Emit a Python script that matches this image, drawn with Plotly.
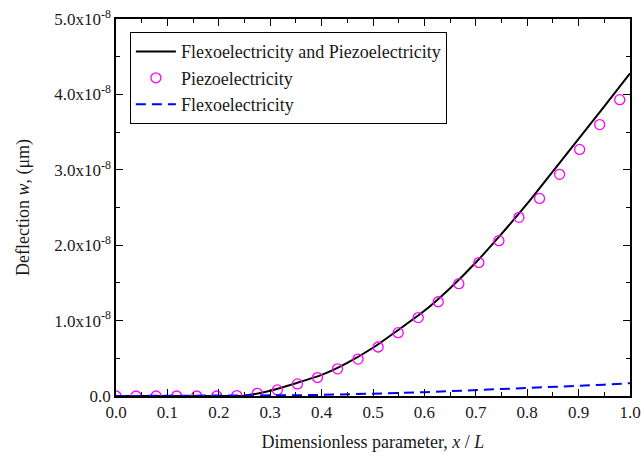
import numpy as np
import plotly.graph_objects as go

# Combined (flexo + piezo) curve (units of 1e-8 um)
x_both = [0.0, 0.05, 0.1, 0.15, 0.2, 0.25, 0.3, 0.35, 0.4, 0.45, 0.5, 0.55, 0.6, 0.65, 0.7, 0.75, 0.8, 0.85, 0.9, 0.95, 1.0]
y_both = [0.0, 0.0, 0.0, 0.0, 0.0, 0.005, 0.07, 0.17, 0.28, 0.44, 0.64, 0.88, 1.13, 1.43, 1.77, 2.15, 2.55, 2.98, 3.41, 3.84, 4.28]

# Piezoelectricity only (circles)
x_piezo = [0.0, 0.039, 0.078, 0.118, 0.157, 0.196, 0.235, 0.275, 0.314, 0.353, 0.392, 0.431, 0.471,
           0.510, 0.549, 0.588, 0.627, 0.667, 0.706, 0.745, 0.784, 0.824, 0.863, 0.902, 0.941, 0.980]
y_piezo = [0.0, 0.0, 0.0, 0.0, 0.0, 0.0, 0.005, 0.035, 0.08, 0.16, 0.245, 0.36, 0.49,
           0.65, 0.84, 1.04, 1.25, 1.49, 1.77, 2.06, 2.37, 2.62, 2.94, 3.27, 3.60, 3.93]

# Flexoelectricity only (dashed)
x_flexo = [0.0, 0.05, 0.1, 0.15, 0.2, 0.25, 0.3, 0.35, 0.4, 0.45, 0.5, 0.55, 0.6, 0.65, 0.7, 0.75, 0.8, 0.85, 0.9, 0.95, 1.0]
y_flexo = [0.0, 0.0, 0.0, 0.0, 0.0, 0.0, 0.005, 0.01, 0.015, 0.02, 0.03, 0.04, 0.05, 0.065, 0.08, 0.09, 0.105, 0.12, 0.13, 0.15, 0.17]

scale = 1e-8
y_tickvals = [0, 1, 2, 3, 4, 5]
y_ticktext = ["0.0", "1.0x10<sup>-8</sup>", "2.0x10<sup>-8</sup>", "3.0x10<sup>-8</sup>",
              "4.0x10<sup>-8</sup>", "5.0x10<sup>-8</sup>"]
x_tickvals = [0.0, 0.1, 0.2, 0.3, 0.4, 0.5, 0.6, 0.7, 0.8, 0.9, 1.0]
x_ticktext = ["0.0", "0.1", "0.2", "0.3", "0.4", "0.5", "0.6", "0.7", "0.8", "0.9", "1.0"]

font_family = "Liberation Serif"
text_color = "#1a1a1a"

fig = go.Figure()
fig.add_trace(go.Scatter(
    x=x_both, y=np.array(y_both) * scale, mode="lines",
    name="Flexoelectricity and Piezoelectricity",
    line=dict(color="black", width=2, shape="spline", smoothing=0.6)))
fig.add_trace(go.Scatter(
    x=x_piezo, y=np.array(y_piezo) * scale, mode="markers",
    name="Piezoelectricity",
    marker=dict(symbol="circle-open", size=10, color="#FF00FF", line=dict(width=1.3, color="#FF00FF"))))
fig.add_trace(go.Scatter(
    x=x_flexo, y=np.array(y_flexo) * scale, mode="lines",
    name="Flexoelectricity",
    line=dict(color="#0000FF", width=2, dash="10px,6px")))

axis_common = dict(
    showline=True, linecolor="black", linewidth=1.5, mirror="allticks",
    ticks="inside", ticklen=7, tickwidth=1.3, tickcolor="black",
    showgrid=False, zeroline=False, automargin=False,
    tickfont=dict(family=font_family, size=17, color=text_color),
)

fig.update_xaxes(
    range=[0, 1], tickmode="array", tickvals=x_tickvals, ticktext=x_ticktext,
    minor=dict(ticks="inside", ticklen=4, tickwidth=1.3, dtick=0.05, tick0=0, tickcolor="black"),
    title=dict(text="Dimensionless parameter, <i>x</i> / <i>L</i>", font=dict(family=font_family, size=18, color=text_color), standoff=14),
    **axis_common)
fig.update_yaxes(
    range=[0, 5e-8], tickmode="array", tickvals=[v * scale for v in y_tickvals], ticktext=y_ticktext,
    minor=dict(ticks="inside", ticklen=4, tickwidth=1.3, dtick=0.5e-8, tick0=0, tickcolor="black"),
    title=dict(text="Deflection <i>w</i>, (μm)", font=dict(family=font_family, size=18, color=text_color), standoff=20),
    **axis_common)

fig.update_layout(
    width=641, height=457,
    margin=dict(l=116, r=11, t=19, b=61),
    paper_bgcolor="white", plot_bgcolor="white",
    font=dict(family=font_family, size=17, color=text_color),
    legend=dict(x=0.027, y=0.965, xanchor="left", yanchor="top",
                bgcolor="white", bordercolor="black", borderwidth=1,
                font=dict(family=font_family, size=18, color=text_color),
                tracegroupgap=0, itemwidth=40),
    showlegend=True,
)

fig.write_html("out.html")
